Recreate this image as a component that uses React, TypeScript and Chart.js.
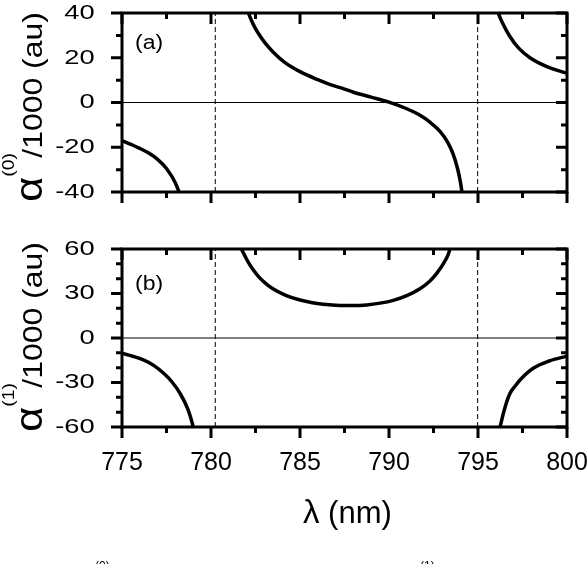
import React, { useEffect, useRef } from "react";
import { Chart, registerables } from "chart.js";

Chart.register(...registerables);

// ---------- data ----------
const X_MIN = 775;
const X_MAX = 800;
const X_STEP = 5;
const resonanceLambda = [780.24, 794.98];

// panel (a): scalar polarizability alpha(0)/1000 (au)
const A_MIN = -40;
const A_MAX = 40;
const A_STEP = 20;
const aLeftLambda = [775.0, 775.5, 776.0, 776.5, 777.0, 777.5, 778.0, 778.3];
const aLeftValue = [-17.0, -18.7, -20.5, -22.6, -25.4, -29.5, -36.0, -42.0];
const aMidLambda = [781.9, 782.1, 782.3, 782.5, 782.75, 783.0, 783.5, 784.1, 785.0, 786.0, 786.7, 787.5, 788.0, 789.0, 790.0, 791.0, 791.7, 792.3, 792.9, 793.3, 793.6, 793.85, 794.0, 794.1, 794.2];
const aMidValue = [45, 40, 36.2, 33, 29.8, 27, 22.5, 18.2, 13.8, 10.2, 8.0, 6.0, 4.6, 2.4, 0.2, -2.8, -5.5, -8.8, -13.2, -17.8, -23.0, -29.5, -35.0, -40.0, -46.0];
const aRightLambda = [795.95, 796.14, 796.4, 796.8, 797.3, 797.92, 798.5, 799.2, 800.0];
const aRightValue = [46, 40, 35.2, 29.4, 24.2, 20.0, 17.4, 15.0, 13.1];

// panel (b): vector polarizability alpha(1)/1000 (au)
const B_MIN = -60;
const B_MAX = 60;
const B_STEP = 30;
const bLeftLambda = [775.0, 775.6, 776.2, 776.8, 777.34, 777.8, 778.26, 778.7, 779.0, 779.1];
const bLeftValue = [-10.3, -12.3, -14.8, -18.6, -23.8, -29.5, -37.3, -48.0, -59.8, -65.0];
const bMidLambda = [781.6, 781.72, 781.9, 782.1, 782.38, 782.7, 783.1, 783.5, 784.2, 785.0, 785.7, 786.3, 787.0, 787.5, 788.0, 788.74, 789.5, 790.24, 791.0, 791.74, 792.3, 792.68, 793.1, 793.3, 793.43, 793.55];
const bMidValue = [66, 60, 55.5, 51, 45.8, 41, 36.5, 33, 28.8, 25.6, 23.8, 22.8, 22.1, 21.9, 21.9, 22.3, 23.5, 25.4, 28.6, 33.2, 38.5, 43.6, 51.0, 55.5, 60, 64];
const bRightLambda = [796.15, 796.24, 796.5, 796.8, 797.1, 797.36, 798.1, 799.0, 800.0];
const bRightValue = [-65, -60, -47.5, -37.3, -32.2, -28.3, -20.4, -15.5, -12.2];

const FONT = '"Liberation Sans", Arial, Helvetica, sans-serif';
const Y_LABEL_PAD = 17;
const Y_LABEL_STRETCH = 1.3;

const pts = (xs: number[], ys: number[]) => xs.map((x, i) => ({ x, y: ys[i] }));

function frameTicksPlugin(yStep: number) {
  return {
    id: "frameTicks",
    beforeDraw(chart: any) {
      const s = chart.scales.y;
      if (s && !s.__stretched) {
        const orig = s.drawLabels.bind(s);
        s.drawLabels = (area: any) => {
          const ctx = chart.ctx;
          const ax = s.right - Y_LABEL_PAD;
          ctx.save();
          ctx.translate(ax, 0);
          ctx.scale(Y_LABEL_STRETCH, 1);
          ctx.translate(-ax, 0);
          orig(area);
          ctx.restore();
        };
        s.__stretched = true;
      }
    },
    afterDraw(chart: any) {
      const { ctx, chartArea: a, scales } = chart;
      const xs = scales.x;
      const ys = scales.y;
      ctx.save();
      ctx.strokeStyle = "#000";
      ctx.lineWidth = 3;
      ctx.lineCap = "butt";
      const xMinor = X_STEP / 2;
      for (let v = xs.min; v <= xs.max + 1e-9; v += xMinor) {
        const px = xs.getPixelForValue(v);
        const k = Math.round((v - xs.min) / xMinor);
        const len = k % 2 === 0 ? 11 : 6;
        ctx.beginPath();
        ctx.moveTo(px, a.bottom);
        ctx.lineTo(px, a.bottom + len);
        ctx.moveTo(px, a.top);
        ctx.lineTo(px, a.top + len);
        ctx.stroke();
      }
      const yMinor = 10;
      for (let v = ys.min; v <= ys.max + 1e-9; v += yMinor) {
        const py = ys.getPixelForValue(v);
        const major = Math.abs(v / yStep - Math.round(v / yStep)) < 1e-6;
        const len = major ? 11 : 6;
        ctx.beginPath();
        ctx.moveTo(a.left - len, py);
        ctx.lineTo(a.left, py);
        ctx.moveTo(a.right - len, py);
        ctx.lineTo(a.right, py);
        ctx.stroke();
      }
      ctx.strokeRect(a.left, a.top, a.right - a.left, a.bottom - a.top);
      ctx.restore();
    },
  };
}

type PanelProps = {
  top: number;
  height: number;
  padTop: number;
  plotBottom: number;
  yMin: number;
  yMax: number;
  yStep: number;
  showX: boolean;
  curves: { x: number; y: number }[][];
};

function Panel(p: PanelProps) {
  const ref = useRef<HTMLCanvasElement | null>(null);
  useEffect(() => {
    if (!ref.current) return;
    const curveSets = p.curves.map((d) => ({
      data: d,
      borderColor: "#000",
      borderWidth: 3.5,
      pointRadius: 0,
      cubicInterpolationMode: "monotone",
      borderJoinStyle: "round",
      fill: false,
    }));
    const zero = {
      data: [
        { x: X_MIN, y: 0 },
        { x: X_MAX, y: 0 },
      ],
      borderColor: "#000",
      borderWidth: 1.2,
      pointRadius: 0,
      tension: 0,
      fill: false,
    };
    const dashed = resonanceLambda.map((r) => ({
      data: [
        { x: r, y: p.yMin },
        { x: r, y: p.yMax },
      ],
      borderColor: "#000",
      borderWidth: 1,
      borderDash: [5, 3],
      pointRadius: 0,
      tension: 0,
      fill: false,
    }));
    const chart = new Chart(ref.current, {
      type: "line",
      data: { datasets: [...curveSets, zero, ...dashed] as any },
      options: {
        animation: false,
        responsive: false,
        events: [],
        layout: { autoPadding: false, padding: { left: 0, right: 21, top: p.padTop, bottom: 0 } },
        plugins: {
          legend: { display: false },
          tooltip: { enabled: false },
          title: { display: false },
        },
        scales: {
          x: {
            type: "linear",
            min: X_MIN,
            max: X_MAX,
            position: "bottom",
            grid: { display: false },
            border: { display: false },
            ticks: {
              display: p.showX,
              stepSize: X_STEP,
              padding: 16,
              color: "#000",
              maxRotation: 0,
              autoSkip: false,
              font: { family: FONT, size: 25, lineHeight: 1 },
            },
            afterFit: (s: any) => {
              s.height = p.height - p.plotBottom;
              s.paddingLeft = 0;
              s.paddingRight = 0;
              s.paddingTop = 0;
              s.paddingBottom = 0;
            },
          },
          y: {
            type: "linear",
            min: p.yMin,
            max: p.yMax,
            grid: { display: false },
            border: { display: false },
            ticks: {
              stepSize: p.yStep,
              padding: Y_LABEL_PAD,
              color: "#000",
              font: { family: FONT, size: 21, lineHeight: 1 },
            },
            afterFit: (s: any) => {
              s.width = 122;
              s.paddingLeft = 0;
              s.paddingRight = 0;
              s.paddingTop = 0;
              s.paddingBottom = 0;
            },
          },
        },
      } as any,
      plugins: [frameTicksPlugin(p.yStep)],
    });
    return () => chart.destroy();
  }, []);
  return (
    <canvas
      ref={ref}
      width={588}
      height={p.height}
      style={{ position: "absolute", left: 0, top: p.top, width: 588, height: p.height }}
    />
  );
}

function YTitle({ cy, sup }: { cy: number; sup: string }) {
  return (
    <div
      style={{
        position: "absolute",
        left: 33,
        top: cy,
        transform: "translate(-50%,-50%) rotate(-90deg) scaleX(1.14)",
        whiteSpace: "nowrap",
        fontSize: 28,
        lineHeight: "40px",
        height: 40,
        fontFamily: FONT,
        color: "#000",
      }}
    >
      <span style={{ fontSize: 38, lineHeight: 0 }}>α</span>
      <span style={{ fontSize: 17, lineHeight: 0, position: "relative", top: -28 }}>{sup}</span>
      <span style={{ marginLeft: -4 }}>/1000 (au)</span>
    </div>
  );
}

export default function App() {
  useEffect(() => {
    document.body.style.margin = "0";
  }, []);
  return (
    <div
      style={{
        position: "relative",
        width: 588,
        height: 564,
        overflow: "hidden",
        background: "#fff",
        fontFamily: FONT,
        color: "#000",
      }}
    >
      <Panel
        top={0}
        height={230}
        padTop={13}
        plotBottom={192}
        yMin={A_MIN}
        yMax={A_MAX}
        yStep={A_STEP}
        showX={false}
        curves={[pts(aLeftLambda, aLeftValue), pts(aMidLambda, aMidValue), pts(aRightLambda, aRightValue)]}
      />
      <Panel
        top={230}
        height={334}
        padTop={19}
        plotBottom={197}
        yMin={B_MIN}
        yMax={B_MAX}
        yStep={B_STEP}
        showX={true}
        curves={[pts(bLeftLambda, bLeftValue), pts(bMidLambda, bMidValue), pts(bRightLambda, bRightValue)]}
      />
      <YTitle cy={107} sup="(0)" />
      <YTitle cy={337} sup="(1)" />
      <div
        style={{
          position: "absolute",
          left: 135,
          top: 32,
          fontSize: 20,
          lineHeight: "20px",
          transform: "scaleX(1.15)",
          transformOrigin: "left top",
          whiteSpace: "nowrap",
        }}
      >
        (a)
      </div>
      <div
        style={{
          position: "absolute",
          left: 135,
          top: 273,
          fontSize: 20,
          lineHeight: "20px",
          transform: "scaleX(1.15)",
          transformOrigin: "left top",
          whiteSpace: "nowrap",
        }}
      >
        (b)
      </div>
      <div
        style={{
          position: "absolute",
          left: 303,
          top: 493,
          fontSize: 31,
          lineHeight: "40px",
          height: 40,
          whiteSpace: "nowrap",
        }}
      >
        <span style={{ fontSize: 33, lineHeight: 0 }}>λ</span> (nm)
      </div>
      <div style={{ position: "absolute", left: 95, top: 560, fontSize: 12, lineHeight: "12px" }}>(0)</div>
      <div style={{ position: "absolute", left: 420, top: 560, fontSize: 12, lineHeight: "12px" }}>(1)</div>
    </div>
  );
}
